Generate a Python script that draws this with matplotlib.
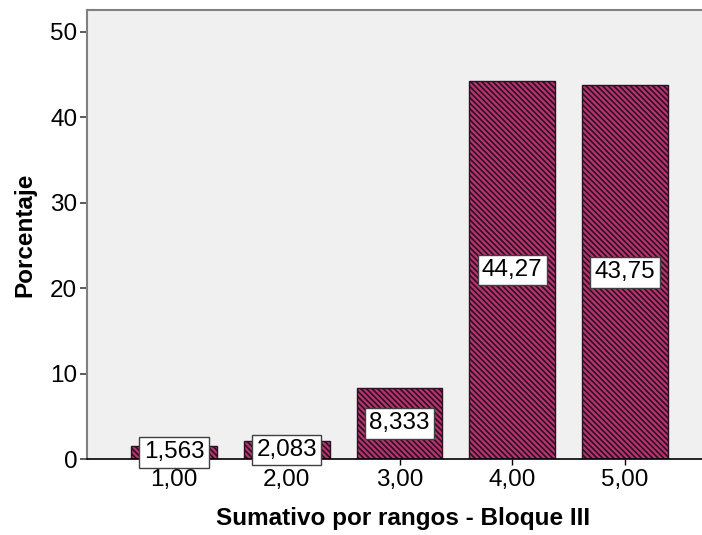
import matplotlib
matplotlib.use("Agg")
import matplotlib.pyplot as plt

categories = ["1,00", "2,00", "3,00", "4,00", "5,00"]
values = [1.563, 2.083, 8.333, 44.27, 43.75]
labels = ["1,563", "2,083", "8,333", "44,27", "43,75"]
yticks = [0, 10, 20, 30, 40, 50]

plt.rcParams['font.family'] = ['Liberation Sans', 'DejaVu Sans']
plt.rcParams['hatch.linewidth'] = 1.2
plt.rcParams['hatch.color'] = '#2a1020'

fig = plt.figure(figsize=(7.02, 5.35), dpi=100)
ax = fig.add_axes([87/702, 1-459/535, 1-87/702, (459-10)/535])
ax.set_facecolor('#f0f0f0')

x = list(range(1, len(categories)+1))
bars = ax.bar(x, values, width=0.76, color='#b8336f', edgecolor='#2a1020',
              linewidth=1.0, hatch='\\\\\\\\\\\\', zorder=2)
for xi, v, lab in zip(x, values, labels):
    ax.text(xi, v/2, lab, ha='center', va='center', fontsize=17.5, zorder=4,
            bbox=dict(boxstyle='square,pad=0.18', facecolor='white',
                      edgecolor='#404040', linewidth=1.0))

ax.set_xlim(1 - 87/112.75, 5 + 77/112.75)
ax.set_ylim(0, 50 + 22/8.54)
ax.set_yticks(yticks)
ax.set_yticklabels([str(t) for t in yticks])
ax.set_xticks(x)
ax.set_xticklabels(categories)
ax.tick_params(axis='both', labelsize=17.5, colors='black')
ax.tick_params(axis='y', length=5, width=1.2, color='#404040', pad=2)
ax.tick_params(axis='x', length=4, width=1.0, color='black', pad=3)

for s in ['left', 'top']:
    ax.spines[s].set_color('#808080')
    ax.spines[s].set_linewidth(1.5)
ax.spines['right'].set_visible(False)
ax.spines['bottom'].set_color('black')
ax.spines['bottom'].set_linewidth(1.2)

ax.set_ylabel('Porcentaje', fontsize=17.5, fontweight='bold', labelpad=10)
ax.set_xlabel('Sumativo por rangos - Bloque III', fontsize=17.5, fontweight='bold')
ax.xaxis.set_label_coords((403 - 87) / 615, -0.108)

fig.savefig('out.png', dpi=100)
